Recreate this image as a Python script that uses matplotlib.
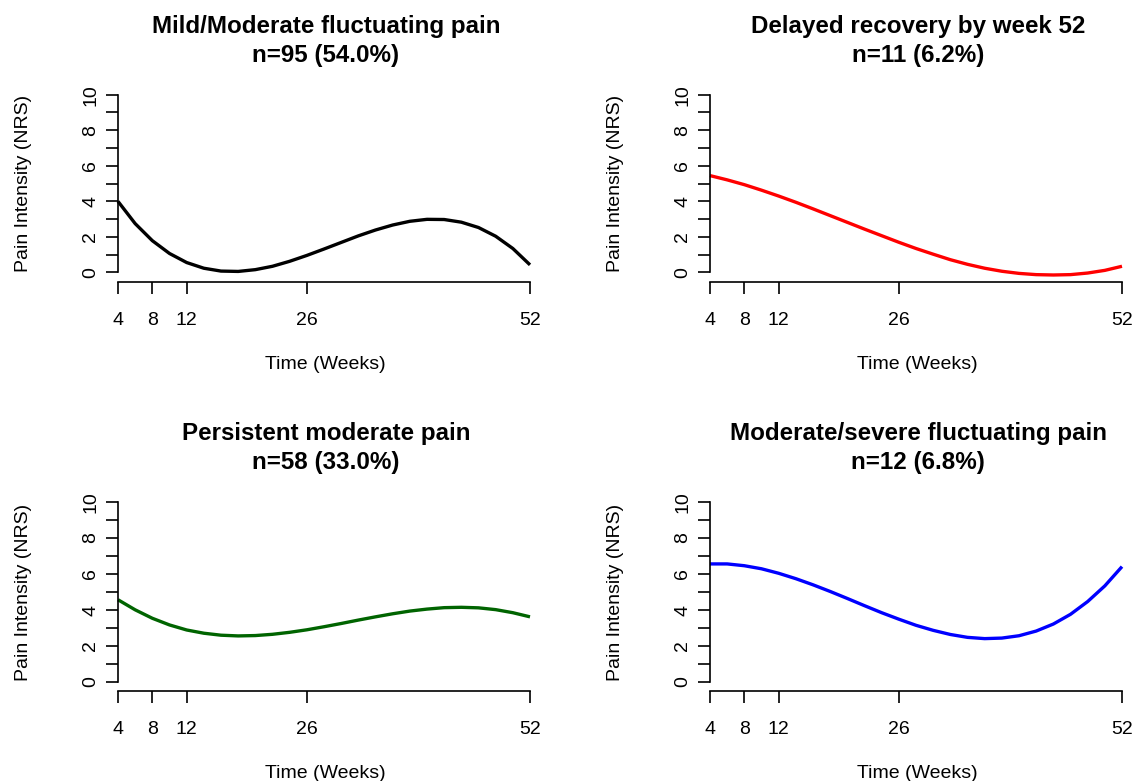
import matplotlib
matplotlib.use("Agg")
import matplotlib.pyplot as plt

plt.rcParams['font.family'] = ['Liberation Sans', 'DejaVu Sans']

weeks = [4, 6, 8, 10, 12, 14, 16, 18, 20, 22, 24, 26, 28,
         30, 32, 34, 36, 38, 40, 42, 44, 46, 48, 50, 52]

mild = [4.00, 2.75, 1.79, 1.07, 0.56, 0.24, 0.08, 0.06, 0.16, 0.35, 0.63, 0.96, 1.32,
        1.69, 2.06, 2.39, 2.67, 2.88, 2.99, 2.98, 2.83, 2.53, 2.04, 1.35, 0.43]
delayed = [5.45, 5.21, 4.94, 4.63, 4.30, 3.95, 3.58, 3.20, 2.82, 2.44, 2.07, 1.70, 1.35,
           1.03, 0.72, 0.46, 0.24, 0.07, -0.05, -0.12, -0.14, -0.12, -0.03, 0.12, 0.35]
persistent = [4.57, 4.01, 3.54, 3.17, 2.89, 2.71, 2.60, 2.56, 2.58, 2.65, 2.76, 2.90, 3.07,
              3.25, 3.44, 3.62, 3.79, 3.94, 4.05, 4.13, 4.15, 4.12, 4.02, 3.85, 3.62]
severe = [6.56, 6.56, 6.46, 6.29, 6.04, 5.74, 5.40, 5.03, 4.64, 4.24, 3.85, 3.49, 3.15,
          2.87, 2.64, 2.48, 2.41, 2.44, 2.57, 2.83, 3.22, 3.76, 4.47, 5.34, 6.41]

titles = ["Mild/Moderate fluctuating pain\nn=95 (54.0%)",
          "Delayed recovery by week 52\nn=11 (6.2%)",
          "Persistent moderate pain\nn=58 (33.0%)",
          "Moderate/severe fluctuating pain\nn=12 (6.8%)"]
series = [mild, delayed, persistent, severe]
colors = ["black", "#FF0000", "#006400", "#0000FF"]

xticks = [4, 8, 12, 26, 52]
yticks = list(range(11))
ylabels = [str(v) if v % 2 == 0 else "" for v in yticks]

W, H = 1134, 781
fig = plt.figure(figsize=(W / 100, H / 100), dpi=100)

# panel boxes in pixels: left, right, top (y=10), bottom (y=0)
boxes = [(118, 530, 94.7, 272.5), (710, 1122, 94.7, 272.5),
         (118, 530, 502, 682), (710, 1122, 502, 682)]

for i in range(4):
    l, r, t, b = boxes[i]
    ax = fig.add_axes([l / W, 1 - b / H, (r - l) / W, (b - t) / H])
    ax.plot(weeks, series[i], color=colors[i], lw=2.4, clip_on=False,
            solid_joinstyle='round', solid_capstyle='butt')
    ax.set_xlim(4, 52)
    ax.set_ylim(0, 10)
    for s in ['top', 'right']:
        ax.spines[s].set_visible(False)
    ax.spines['bottom'].set_position(('outward', 6.8))
    ax.spines['bottom'].set_bounds(4, 52)
    ax.spines['left'].set_bounds(0, 10)
    for s in ['bottom', 'left']:
        ax.spines[s].set_linewidth(1.2)
    ax.set_xticks(xticks)
    ax.set_xticklabels([str(v) for v in xticks])
    ax.set_yticks(yticks)
    ax.set_yticklabels(ylabels, rotation=90, va='center')
    ax.tick_params(axis='both', length=8.6, width=1.2, labelsize=14)
    ax.tick_params(axis='x', pad=13)
    ax.tick_params(axis='y', pad=5)
    ax.patch.set_alpha(0)

    cx = (l + r) / 2
    fig.text((cx + 2) / W, 1 - (t - 54) / H, titles[i], ha='center', va='center',
             fontsize=17.4, fontweight='bold', linespacing=1.33)
    fig.text((cx + 1) / W, 1 - (b + 92) / H, "Time (Weeks)", ha='center', va='center',
             fontsize=14)
    fig.text((l - 94) / W, 1 - (t + b) / 2 / H, "Pain Intensity (NRS)", ha='center',
             va='center', rotation=90, fontsize=14)

fig.savefig("out.png", dpi=100)
